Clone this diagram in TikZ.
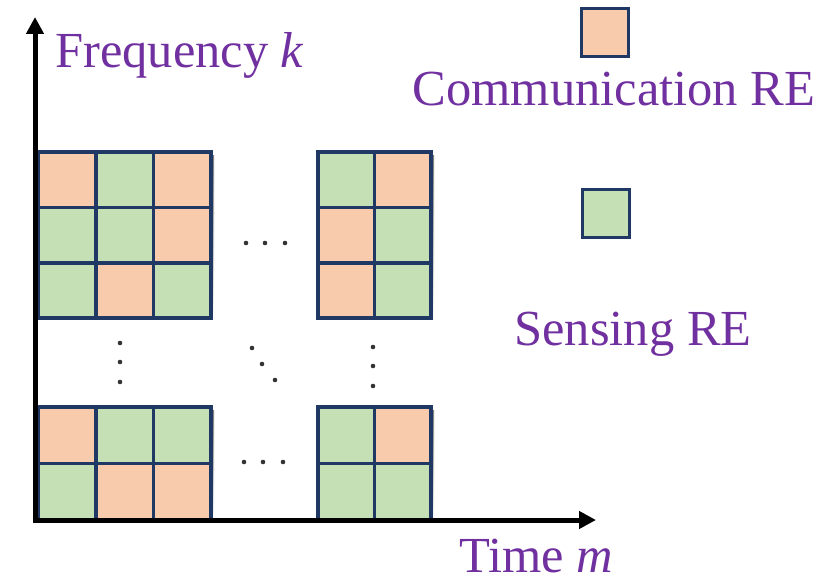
\documentclass[tikz,border=0pt]{standalone}
\usepackage{fontspec}
\setmainfont{Liberation Serif}
\usetikzlibrary{arrows.meta}
\definecolor{comm}{HTML}{F8CBAD}
\definecolor{sens}{HTML}{C5E0B4}
\definecolor{navy}{HTML}{1F3864}
\definecolor{txtpurple}{HTML}{7030A0}
\definecolor{shade}{RGB}{208,212,224}
\tikzset{
  gridline/.style={draw=navy, line width=3.8pt},
  legendbox/.style={draw=navy, line width=3pt},
  axis/.style={line width=5pt, -{Triangle[length=17pt,width=17pt]}},
  label/.style={text=txtpurple, font=\fontsize{50.5}{60}\selectfont, inner sep=0pt, anchor=base},
  dotmark/.style={fill=black!80, draw=none},
}
% fill a block of cells: x0, y0, dx, dy, list of col/row/colour
\newcommand\cellfill[5]{%
  \foreach \cc/\rr/\cl in {#5}{%
    \fill[\cl] ({#1+\cc*#3},{#2+\rr*#4}) rectangle ++(#3,#4);
  }%
}
% soft shadow under a block: x0, y0, ncols, nrows, dx, dy
\newcommand\cellgrid[6]{%
  \fill[shade] ({#1+3},{#2+3}) rectangle ++({#3*#5},{#4*#6});
}
% outline and inner lines of a block: x0, y0, ncols, nrows, dx, dy
\newcommand\cellines[6]{%
  \draw[gridline] (#1,#2) rectangle ++({#3*#5},{#4*#6});
  \foreach \ii in {1,...,\numexpr#3-1\relax}{%
    \draw[gridline] ({#1+\ii*#5},#2) -- ++(0,{#4*#6});
  }%
  \foreach \jj in {1,...,\numexpr#4-1\relax}{%
    \draw[gridline] (#1,{#2+\jj*#6}) -- ++({#3*#5},0);
  }%
}
\begin{document}
\begin{tikzpicture}[x=1pt,y=-1pt]
\useasboundingbox (0,0) rectangle (825,578);

% drop shadows of the four blocks
\cellgrid{38}{152}{3}{3}{57.7}{55.4}
\cellgrid{318}{152}{2}{3}{56.5}{55.4}
\cellgrid{38}{407}{3}{2}{57.7}{56.5}
\cellgrid{318}{407}{2}{2}{56.5}{56.5}

% resource elements
\cellfill{38}{152}{57.7}{55.4}{0/0/comm,1/0/sens,2/0/comm,0/1/sens,1/1/sens,2/1/comm,0/2/sens,1/2/comm,2/2/sens}
\cellfill{318}{152}{56.5}{55.4}{0/0/sens,1/0/comm,0/1/comm,1/1/sens,0/2/comm,1/2/sens}
\cellfill{38}{407}{57.7}{56.5}{0/0/comm,1/0/sens,2/0/sens,0/1/sens,1/1/comm,2/1/comm}
\cellfill{318}{407}{56.5}{56.5}{0/0/sens,1/0/comm,0/1/sens,1/1/sens}

\cellines{38}{152}{3}{3}{57.7}{55.4}
\cellines{318}{152}{2}{3}{56.5}{55.4}
\cellines{38}{407}{3}{2}{57.7}{56.5}
\cellines{318}{407}{2}{2}{56.5}{56.5}

% ellipsis dots
\foreach \px/\py in {246/243,265/243,285/243,
                     244/462,263/462,283/462,
                     120/343,120/362,120/382,
                     373/347,373/366,373/386,
                     252/348,262/364,275/380}{
  \fill[dotmark] (\px,\py) circle (2.3);
}

% axes
\coordinate (O) at (35,522);
\coordinate (ytip) at (35,17);
\coordinate (xtip) at (596,520);
\coordinate (xstart) at (32.5,520);
\draw[axis] (O) -- (ytip);
\draw[axis] (xstart) -- (xtip);

% axis labels
\node[label, anchor=base west] (flabel) at (55,68) {Frequency \textit{k}};
\node[label] (tlabel) at (536,572) {Time \textit{m}};

% legend
\node[legendbox, fill=comm, minimum width=47pt, minimum height=48pt, inner sep=0pt] (commbox) at (605,33) {};
\node[label] (commlabel) at (614,106) {Communication RE};
\node[legendbox, fill=sens, minimum width=47pt, minimum height=48pt, inner sep=0pt] (sensbox) at (606,213) {};
\node[label] (senslabel) at (633,345) {Sensing RE};
\end{tikzpicture}
\end{document}
